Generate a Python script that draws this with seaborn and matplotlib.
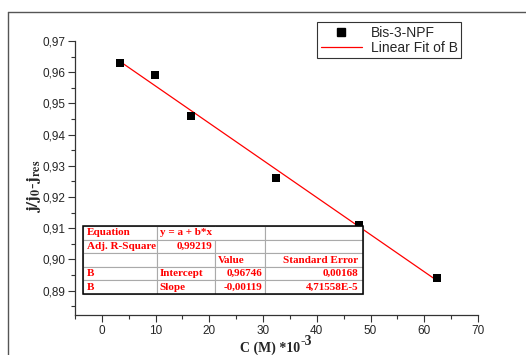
import numpy as np
import pandas as pd
import matplotlib
matplotlib.use('Agg')
import matplotlib.pyplot as plt
from matplotlib.ticker import MultipleLocator, FuncFormatter
from matplotlib.lines import Line2D
from matplotlib.patches import Rectangle
import seaborn as sns

#---------------------------------------------------------
conc=[3.3, 9.9, 16.6, 32.4, 47.8, 62.4]
ratio=[0.963, 0.959, 0.946, 0.926, 0.911, 0.894]
fit_x=[3.3, 62.4]
fit_y=[0.96353, 0.89320]

tbl_rows=[
	['Equation', 'y = a + b*x', '', ''],
	['Adj. R-Square', '0,99219', '', ''],
	['', '', 'Value', 'Standard Error'],
	['B', 'Intercept', '0,96746', '0,00168'],
	['B', 'Slope', '-0,00119', '4,71558E-5'],
]

#---------------------------------------------------------
sns.set_style('ticks')
plt.rcParams['font.family']=['Liberation Sans', 'DejaVu Sans']
plt.rcParams['mathtext.fontset']='stix'

df=pd.DataFrame({'x': conc, 'y': ratio})
dff=pd.DataFrame({'x': fit_x, 'y': fit_y})

fig=plt.figure(figsize=(5.26, 3.55), dpi=100)
ax=fig.add_axes([0.1426, 0.1127, 0.7661, 0.7718])

sns.lineplot(x='x', y='y', data=dff, color='red', lw=0.9, ax=ax, label='Linear Fit of B', zorder=2)
sns.scatterplot(x='x', y='y', data=df, marker='s', color='black', s=38, edgecolor='black', linewidth=0, ax=ax, label='Bis-3-NPF', zorder=3)

#axes
ax.set_xlim(-5, 70)
ax.set_ylim(0.8822, 0.97)
ax.xaxis.set_major_locator(MultipleLocator(10))
ax.xaxis.set_minor_locator(MultipleLocator(5))
ax.yaxis.set_major_locator(MultipleLocator(0.01))
ax.yaxis.set_minor_locator(MultipleLocator(0.005))
ax.yaxis.set_major_formatter(FuncFormatter(lambda v, p: f'{v:.2f}'.replace('.', ',')))
ax.tick_params(which='major', direction='out', length=5, width=0.8, labelsize=8.5, color='#333333', pad=2)
ax.tick_params(which='minor', direction='out', length=3, width=0.8, color='#333333')
sns.despine(ax=ax)
for s in ['left', 'bottom']:
	ax.spines[s].set_color('#333333')
	ax.spines[s].set_linewidth(0.9)

#axis labels
ax.set_xlabel('C (M) *10', fontsize=10, weight='bold', family='Liberation Serif')
ax.xaxis.set_label_coords(0.484, -0.135)
ax.xaxis.label.set_va('baseline')
ax.text(0.559, -0.108, '-3', transform=ax.transAxes, fontsize=10, weight='bold',
	family='Liberation Serif', ha='left', va='baseline')
ax.set_ylabel(r'$\mathbf{j/j_0{\text{-}}j_{res}}$', fontsize=12.5)
ax.yaxis.set_label_coords(-0.102, 0.47)
ax.yaxis.label.set_va('center')

#legend
handles=[Line2D([], [], marker='s', color='black', ls='none', markersize=6),
	Line2D([], [], color='red', lw=0.9)]
leg=ax.legend(handles, ['Bis-3-NPF', 'Linear Fit of B'], loc='upper right', bbox_to_anchor=(0.958, 1.069),
	fontsize=10, frameon=True, fancybox=False, edgecolor='#333333', framealpha=1,
	borderpad=0.25, handlelength=3.0, labelspacing=0.1, handletextpad=0.6, borderaxespad=0)
leg.get_frame().set_linewidth(0.8)

#table
tb=ax.table(cellText=tbl_rows, cellLoc='left', colWidths=[74, 58, 50, 98],
	bbox=[0.0199, 0.0766, 0.6947, 0.2482], zorder=4)
tb.auto_set_font_size(False)
right_cells=[(1, 1), (2, 3), (3, 2), (3, 3), (4, 2), (4, 3)]
for (r, c), cell in tb.get_celld().items():
	cell.set_edgecolor('#aaaaaa')
	cell.set_linewidth(0.8)
	cell.PAD=0.05
	t=cell.get_text()
	t.set_fontsize(8)
	t.set_color('red')
	t.set_fontweight('bold')
	t.set_family('Liberation Serif')
	if (r, c) in right_cells:
		cell._loc='right'
		t.set_ha('right')
tb[0, 1].visible_edges='BTL'
tb[0, 2].visible_edges='BTR'
ax.add_patch(Rectangle((0.0199, 0.0766), 0.6947, 0.2482, transform=ax.transAxes, fill=False,
	edgecolor='black', lw=1.1, zorder=5, clip_on=False))

#figure border
fig.add_artist(Line2D([8/526, 1], [1-12/355, 1-12/355], color='#555555', lw=1))
fig.add_artist(Line2D([8/526, 8/526], [0, 1-12/355], color='#555555', lw=1))

plt.savefig('out.png', dpi=100)
plt.close()
